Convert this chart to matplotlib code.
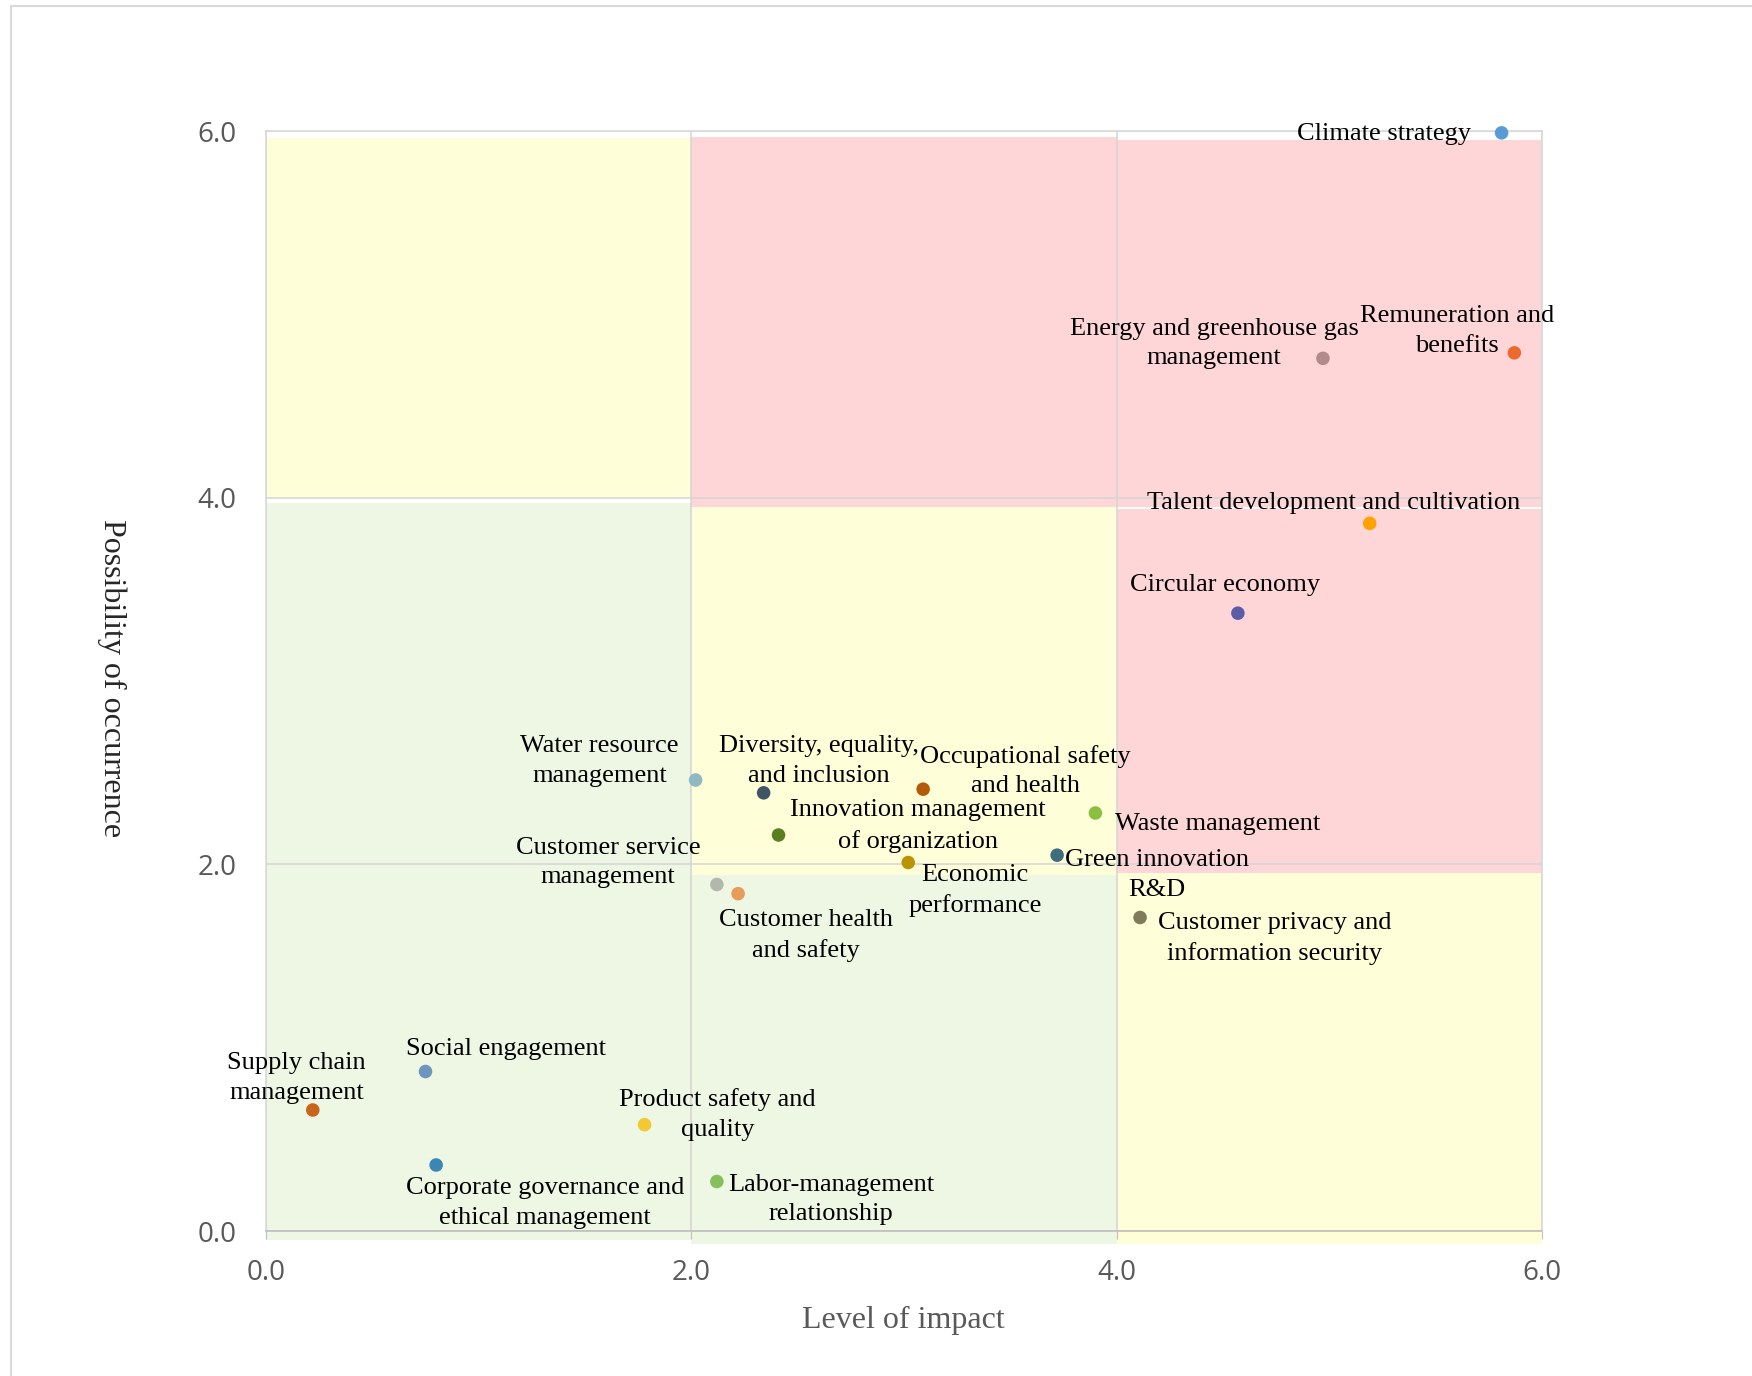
import matplotlib.pyplot as plt
from matplotlib.patches import Rectangle

# --- data ---
topics = [
    "Climate strategy",
    "Energy and greenhouse gas\nmanagement",
    "Remuneration and\nbenefits",
    "Talent development and cultivation",
    "Circular economy",
    "Water resource\nmanagement",
    "Diversity, equality,\nand inclusion",
    "Occupational safety\nand health",
    "Innovation management\nof organization",
    "Waste management",
    "Economic\nperformance",
    "Green innovation\nR&D",
    "Customer service\nmanagement",
    "Customer health\nand safety",
    "Customer privacy and\ninformation security",
    "Supply chain\nmanagement",
    "Social engagement",
    "Product safety and\nquality",
    "Corporate governance and\nethical management",
    "Labor-management\nrelationship",
]
impact = [5.81, 4.97, 5.87, 5.19, 4.57, 2.02, 2.34, 3.09, 2.41, 3.90,
          3.02, 3.72, 2.12, 2.22, 4.11, 0.22, 0.75, 1.78, 0.80, 2.12]
possibility = [5.99, 4.76, 4.79, 3.86, 3.37, 2.46, 2.39, 2.41, 2.16, 2.28,
               2.01, 2.05, 1.89, 1.84, 1.71, 0.66, 0.87, 0.58, 0.36, 0.27]
colors = ["#5B9BD5", "#B3898C", "#EC6A2E", "#FFA200", "#5B5EA6", "#90B8C1",
          "#3F5566", "#B35A08", "#5A7F20", "#8CBF3F", "#B89400", "#3E6E7E",
          "#B3B8AD", "#E89C5A", "#7E7C5A", "#C8651B", "#6D95BE", "#F2C833",
          "#3A86B5", "#86C05A"]

# label offsets from the dot, in pixels (right, up)
label_dx = [-118, -109, -57, -36, -13, -96, 55, 102, 139, 122,
            67, 100, -109, 68, 135, -16, 80, 73, 109, 114]
label_dy = [-1, 15, 22, 20, 28, 19, 32, 18, 9, -11,
            -28, -20, 22, -42, -21, 32, 23, 10, -38, -18]

# background zones: x from, x to, y from, y to
zone_x0 = [0.0, 2.0, 4.0, 0.0, 2.0, 2.0, 4.0, 4.0]
zone_x1 = [2.0, 4.0, 6.0, 2.0, 4.0, 4.0, 6.0, 6.0]
zone_y0 = [4.0, 3.93, 3.95, -0.05, 1.94, -0.07, 1.955, -0.07]
zone_y1 = [5.96, 5.97, 5.95, 3.97, 3.95, 1.94, 3.94, 1.955]
zone_col = ["#FEFED8", "#FED6D8", "#FED6D8", "#EEF6E4",
            "#FEFED8", "#EEF6E4", "#FED6D8", "#FEFED8"]

ticks = [0, 2, 4, 6]
tick_labels = ["0.0", "2.0", "4.0", "6.0"]

SERIF = ["Liberation Serif", "DejaVu Serif"]

fig = plt.figure(figsize=(17.52, 13.76), dpi=100)
ax = fig.add_axes([266 / 1752, 1 - 1231 / 1376, 1276 / 1752, 1100 / 1376])

# outer chart frame (the screenshot is cut at right and bottom)
fig.patches.append(Rectangle((11 / 1752, -0.05), 1.1, (1376 - 6) / 1376 + 0.05,
                             transform=fig.transFigure, fill=False,
                             edgecolor="#D9D9D9", linewidth=1.5))

for x0, x1, y0, y1, c in zip(zone_x0, zone_x1, zone_y0, zone_y1, zone_col):
    ax.add_patch(Rectangle((x0, y0), x1 - x0, y1 - y0, facecolor=c,
                           edgecolor="none", zorder=0, clip_on=False))

ax.set_xlim(0, 6)
ax.set_ylim(0, 6)
ax.set_xticks(ticks)
ax.set_xticklabels(tick_labels)
ax.set_yticks(ticks)
ax.set_yticklabels(tick_labels)
ax.grid(True, color="#D4D4D4", linewidth=1.1, zorder=1)
ax.set_axisbelow(True)
for s in ax.spines.values():
    s.set_color("#D9D9D9")
    s.set_linewidth(1.2)
ax.spines["bottom"].set_color("#BFBFBF")
ax.tick_params(axis="x", length=6, color="#BFBFBF", pad=14,
               labelsize=20, labelcolor="#595959")
ax.tick_params(axis="y", length=0, pad=21, labelsize=20, labelcolor="#595959")
for lab in ax.get_xticklabels() + ax.get_yticklabels():
    lab.set_fontfamily("Open Sans")

ax.scatter(impact, possibility, s=95, c=colors, edgecolors="none", zorder=3,
           clip_on=False)

for name, x, y, dx, dy in zip(topics, impact, possibility, label_dx, label_dy):
    ax.annotate(name, (x, y), xytext=(dx, dy), textcoords="offset pixels",
                ha="center", va="center", multialignment="center",
                fontsize=19, family=SERIF, color="black", linespacing=1.45,
                zorder=4, annotation_clip=False)

fig.text(903 / 1752, 1 - 1320 / 1376, "Level of impact", ha="center",
         va="center", fontsize=23, family=SERIF, color="#595959")
fig.text(112 / 1752, 1 - 678 / 1376, "Possibility of occurrence", ha="center",
         va="center", rotation=-90, fontsize=23, family=SERIF, color="#262626")

fig.savefig("out.png", dpi=100)
